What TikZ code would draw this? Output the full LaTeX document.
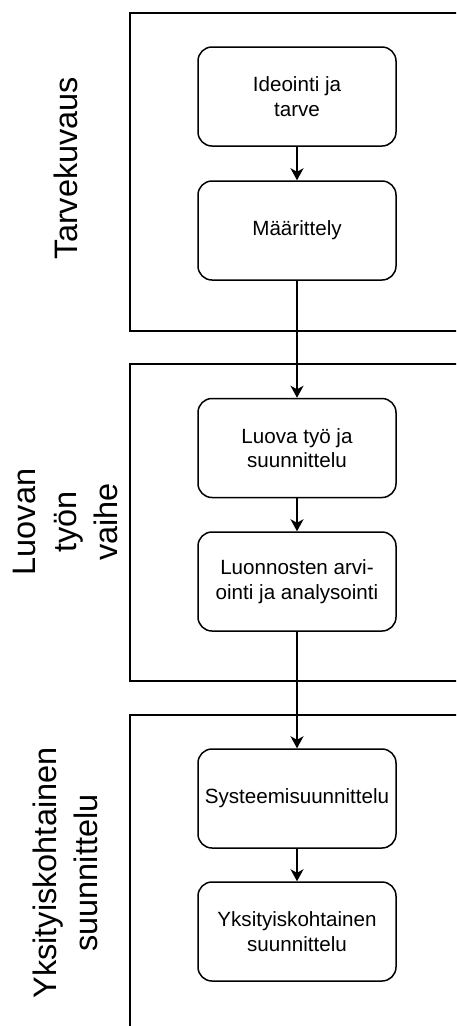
\documentclass[tikz,border=0pt]{standalone}
\usepackage{fontspec}
\setmainfont{Liberation Sans}
\usetikzlibrary{arrows.meta}
\begin{document}
\begin{tikzpicture}[x=1pt, y=-1pt,
  stage/.style={draw, line width=1.5pt, rounded corners=14pt,
    minimum width=198pt, minimum height=99pt, inner sep=0pt,
    align=center, font=\fontsize{20.6}{24.5}\selectfont},
  phase/.style={draw, line width=1.5pt},
  phaselabel/.style={rotate=90, align=center, inner sep=0pt,
    font=\fontsize{32.5}{41}\selectfont},
  flow/.style={line width=1.5pt, -{Stealth[length=12pt, width=13pt, inset=3.5pt]}}]
\useasboundingbox (0,0) rectangle (456,1026);
\fill[white] (0,0) rectangle (456,1026);
\clip (0,0) rectangle (456,1026);

% phase frames (open towards the right edge)
\draw[phase] (130,13) rectangle (480,331);
\draw[phase] (130,364) rectangle (480,681);
\draw[phase] (130,715) rectangle (480,1040);

% phase titles
\node[phaselabel] (t1) at (66,168) {Tarvekuvaus};
\node[phaselabel] (t2) at (65,522) {Luovan\\työn\\vaihe};
\node[phaselabel] (t3) at (65,873) {Yksityiskohtainen\\suunnittelu};

% process steps
\node[stage] (n1) at (297,96.5) {Ideointi ja\\tarve};
\node[stage] (n2) at (297,230.5) {Määrittely};
\node[stage] (n3) at (297,448) {Luova työ ja\\suunnittelu};
\node[stage] (n4) at (297,581.5) {Luonnosten arvi-\\ointi ja analysointi};
\node[stage] (n5) at (297,798.5) {Systeemisuunnittelu};
\node[stage] (n6) at (297,931.5) {Yksityiskohtainen\\suunnittelu};

% flow between steps
\draw[flow] (n1) -- (n2);
\draw[flow] (n2) -- (n3);
\draw[flow] (n3) -- (n4);
\draw[flow] (n4) -- (n5);
\draw[flow] (n5) -- (n6);
\end{tikzpicture}
\end{document}
